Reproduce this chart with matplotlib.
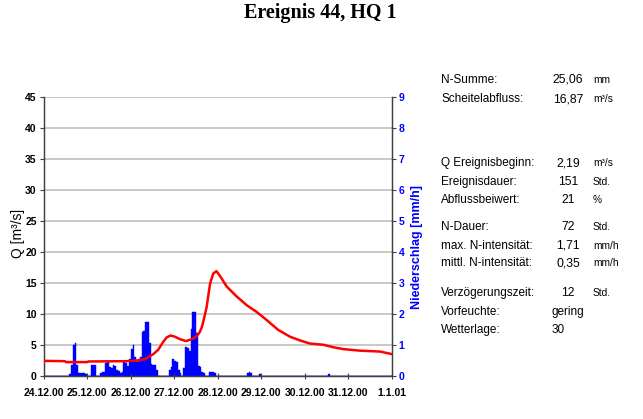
import numpy as np
import matplotlib
matplotlib.use("Agg")
import matplotlib.pyplot as plt

# ---------------- data ----------------
title = "Ereignis 44, HQ 1"
day_labels = ["24.12.00", "25.12.00", "26.12.00", "27.12.00", "28.12.00",
              "29.12.00", "30.12.00", "31.12.00", "1.1.01"]

# discharge Q [m3/s] at hours since 24.12.00 00:00
q_hours = [0, 11.5, 12.5, 24, 24.8, 46, 53, 56.8, 60.5, 63.2, 66, 67.9, 70,
           72.4, 75.2, 78.5, 80.7, 82.5, 84.4, 86, 87.2, 88.5, 89.9, 91.8,
           93.5, 95.3, 97.3, 101, 106.5, 112, 117.5, 123, 129.4, 135.9,
           141.4, 146.9, 154.3, 159.8, 165.3, 174.5, 185.6, 192]
q_values = [2.4, 2.35, 2.2, 2.2, 2.3, 2.35, 2.5, 2.8, 3.5, 4.2, 5.5, 6.2, 6.5,
            6.3, 5.9, 5.6, 5.8, 6.0, 6.4, 7.0, 7.8, 9.3, 11.1, 14.9,
            16.5, 16.9, 16.1, 14.4, 12.8, 11.4, 10.3, 9.0, 7.4, 6.3,
            5.7, 5.2, 5.0, 4.6, 4.3, 4.05, 3.9, 3.5]

# hourly precipitation [mm/h] (hours with rain)
p_hours = [14, 15, 16, 17, 18, 19, 20, 21, 22, 23,
           26, 27, 28, 31, 32, 33, 34, 35, 36, 37, 38, 39, 40, 41, 42, 43,
           44, 45, 46, 47, 48, 49, 50, 51, 52, 53, 54, 55, 56, 57, 58, 59,
           60, 61, 62, 69, 70, 71, 72, 73, 74, 75, 77, 78, 79, 80, 81, 82,
           83, 84, 85, 86, 87, 88, 91, 92, 93, 94, 112, 113, 114, 119, 157]
p_values = [0.05, 0.35, 1.0, 1.05, 0.35, 0.1, 0.09, 0.09, 0.09, 0.06,
            0.33, 0.36, 0.36, 0.08, 0.12, 0.13, 0.4, 0.45, 0.28, 0.25, 0.36,
            0.3, 0.2, 0.15, 0.08, 0.12,
            0.45, 0.4, 0.3, 0.55, 0.87, 1.0, 0.6, 0.45, 0.55, 0.62, 1.4, 1.45,
            1.75, 1.72, 1.07, 0.38,
            0.36, 0.36, 0.2, 0.18, 0.27, 0.55, 0.48, 0.45, 0.2, 0.1, 0.25,
            0.93, 0.9, 0.8, 1.5, 2.07,
            2.05, 1.37, 0.3, 0.27, 0.12, 0.1, 0.12, 0.13, 0.13, 0.08, 0.08,
            0.12, 0.1, 0.06, 0.05]

info_labels = ["N-Summe:", "Scheitelabfluss:", "Q Ereignisbeginn:", "Ereignisdauer:",
               "Abflussbeiwert:", "N-Dauer:", "max. N-intensität:",
               "mittl. N-intensität:", "Verzögerungszeit:", "Vorfeuchte:", "Wetterlage:"]
info_values = ["25,06", "16,87", "2,19", "151", "21", "72", "1,71", "0,35", "12",
               "gering", "30"]
info_units = ["mm", "m³/s", "m³/s", "Std.", "%", "Std.", "mm/h", "mm/h", "Std.", "", ""]

# ---------------- layout ----------------
W, H = 643, 419
fig = plt.figure(figsize=(W / 100, H / 100), dpi=100)
fs = "Liberation Sans"

left_px, right_px, top_px, bot_px = 43.7, 391.7, 97.3, 375.7
ax = fig.add_axes([left_px / W, 1 - bot_px / H, (right_px - left_px) / W,
                   (bot_px - top_px) / H])
ax2 = ax.twinx()

# precipitation on right axis (drawn below line)
n_hours = 192
precip = np.zeros(n_hours)
precip[np.array(p_hours)] = p_values
edges = np.arange(n_hours + 1)
ax2.stairs(precip, edges, fill=True, facecolor="#0000ff", edgecolor="#0000ff",
           linewidth=0.3, zorder=2)
ax2.set_ylim(0, 9)
ax2.set_yticks(range(0, 10))
ax2.grid(axis="y", color="#c8c8c8", linewidth=1.4, zorder=0)
ax2.set_axisbelow(True)
ax2.tick_params(axis="y", labelcolor="#0000ff", color="#404040", labelsize=7.5,
                direction="out", length=3, width=0.8, pad=2)
for t in ax2.get_yticklabels():
    t.set_fontweight("bold")
    t.set_fontfamily(fs)
ax2.set_ylabel("Niederschlag [mm/h]", color="#0000ff", fontsize=9,
               fontweight="bold", fontfamily=fs)
ax2.yaxis.set_label_coords(1.056, 0.462)

# discharge on left axis, on top
ax.set_zorder(ax2.get_zorder() + 1)
ax.patch.set_visible(False)
ax.plot(q_hours, q_values, color="#ff0000", linewidth=1.8, zorder=5,
        solid_joinstyle="round")
ax.set_ylim(0, 45)
ax.set_yticks(range(0, 50, 5))
ax.set_xlim(0, 192)
ax.set_xticks(np.arange(0, 193, 24))
ax.set_xticklabels(day_labels)
ax.tick_params(axis="x", direction="inout", length=5, width=0.8, labelsize=7.5,
               pad=6, color="#404040")
ax.tick_params(axis="y", direction="out", length=3, width=0.8, labelsize=7.5,
               pad=2, color="#404040")
for t in ax.get_xticklabels() + ax.get_yticklabels():
    t.set_fontweight("bold")
    t.set_fontfamily(fs)
ax.set_ylabel("Q [m³/s]", fontsize=10, fontfamily=fs)
ax.yaxis.set_label_coords(-0.054, 0.51)

for a in (ax, ax2):
    a.spines["top"].set_visible(False)
    for s in ("left", "right", "bottom"):
        a.spines[s].set_color("#404040")
        a.spines[s].set_linewidth(0.9)

# title
fig.text(320 / W, 1 - 13 / H, title, ha="center", va="center",
         fontsize=14.5, fontweight="bold", fontfamily="Liberation Serif")

# info panel
row_y = [80, 99.5, 163.3, 181.7, 200, 226.7, 245.7, 263.3, 293.3, 311.7, 330]
for lab, val, unit, y in zip(info_labels, info_values, info_units, row_y):
    yf = 1 - y / H
    fig.text(441 / W, yf, lab, ha="left", va="center", fontsize=8.5, fontfamily=fs)
    if val in ("gering", "30"):
        fig.text(552 / W, yf, val, ha="left", va="center", fontsize=8.5, fontfamily=fs)
    else:
        fig.text(568 / W, yf, val, ha="center", va="center", fontsize=8.7, fontfamily=fs)
    if unit:
        fig.text(593 / W, yf, unit, ha="left", va="center", fontsize=7.3, fontfamily=fs)

fig.savefig("out.png", dpi=100)
